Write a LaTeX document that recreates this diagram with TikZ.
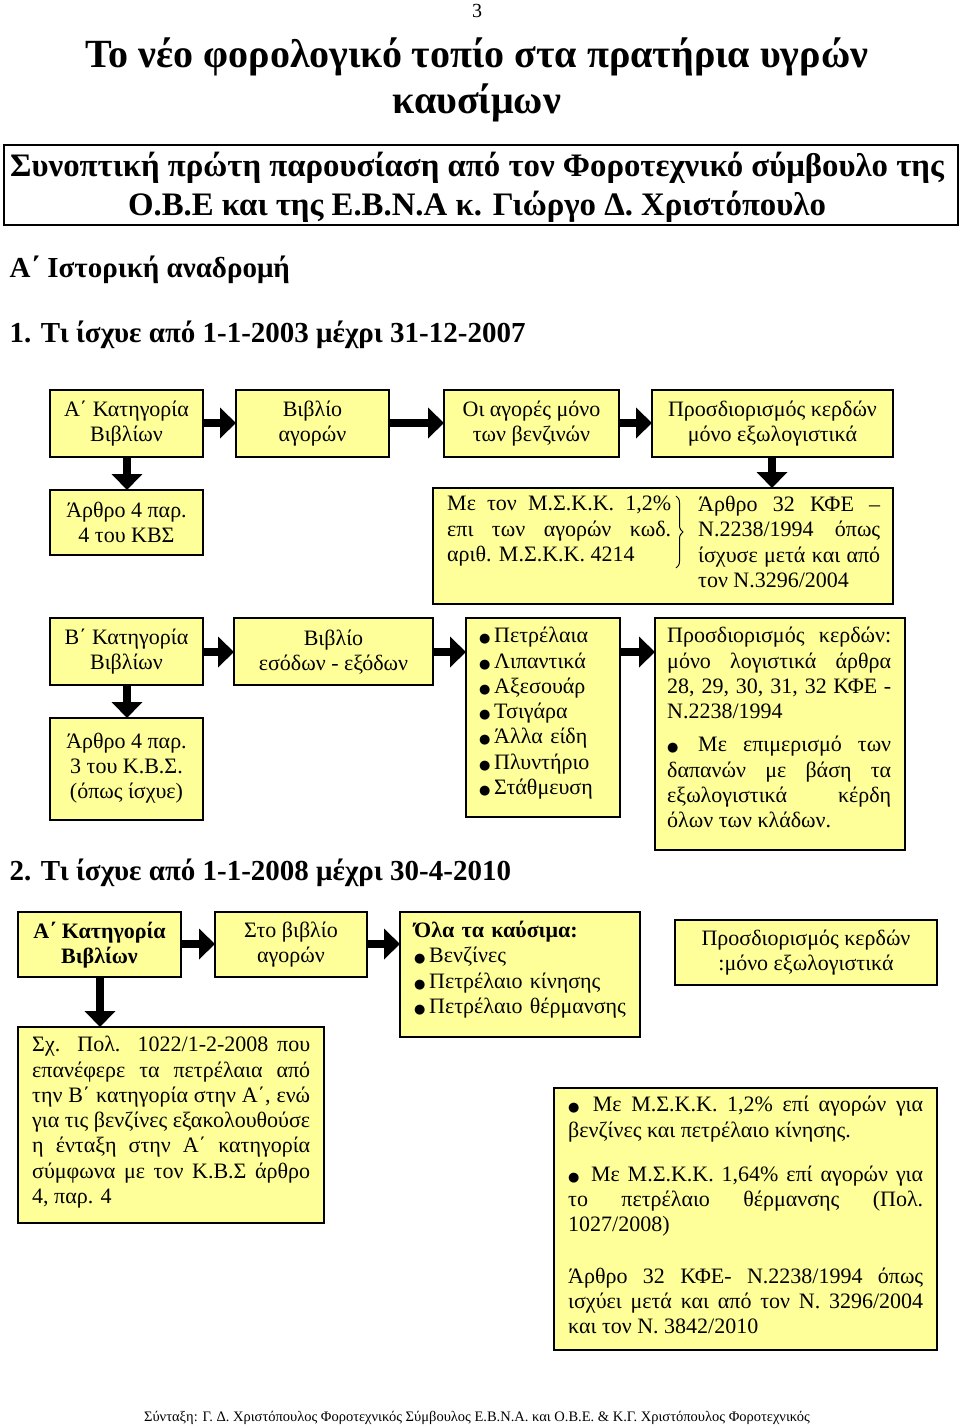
\documentclass[tikz,border=0pt]{standalone}
\usepackage{fontspec}
\setmainfont{Liberation Serif}
\newfontfamily\dv{DejaVu Sans}
\usetikzlibrary{arrows.meta,decorations.pathreplacing}
\definecolor{yel}{HTML}{FFFF99}
\newcommand{\bul}{{\dv\fontsize{13}{13}\selectfont●}\,}
\tikzset{
 bx/.style={draw,line width=1.6pt,fill=yel,inner sep=0pt},
 tx/.style={font=\fontsize{22}{25}\selectfont,align=center,inner sep=0pt},
 jt/.style={font=\fontsize{22}{25.3}\selectfont,align=justify,inner sep=0pt,anchor=north west},
 fat/.style={line width=8pt,-{Triangle[length=16pt,width=30pt]}},
}
\begin{document}
\begin{tikzpicture}[x=1pt,y=-1pt]
\useasboundingbox (0,0) rectangle (960,1426);
\node[font=\fontsize{20}{20}\selectfont] (pg) at (477,11) {3};
\node[font=\bfseries\fontsize{40}{46}\selectfont,align=center] (t1) at (477,80) {Το νέο φορολογικό τοπίο στα πρατήρια υγρών\\καυσίμων};
\draw[line width=1.2pt] (4,145) rectangle (958,225);
\node[font=\bfseries\fontsize{32.8}{39}\selectfont,align=center] (t2) at (477,187) {Συνοπτική πρώτη παρουσίαση από τον Φοροτεχνικό σύμβουλο της\\Ο.Β.Ε και της Ε.Β.Ν.Α κ. Γιώργο Δ. Χριστόπουλο};
\node[font=\bfseries\fontsize{29}{29}\selectfont,anchor=west] (h1) at (6,270) {Α΄ Ιστορική αναδρομή};
\node[font=\bfseries\fontsize{29}{29}\selectfont,anchor=west] (h2) at (6,335) {1. Τι ίσχυε από 1-1-2003 μέχρι 31-12-2007};
% row 1
\draw[bx] (50,390) rectangle (203,457); \node[tx] (a1) at (126.5,423.5) {Α΄ Κατηγορία\\Βιβλίων};
\draw[bx] (236,390) rectangle (389,457); \node[tx] (a2) at (312.5,423.5) {Βιβλίο\\αγορών};
\draw[bx] (444,390) rectangle (619,457); \node[tx] (a3) at (531.5,423.5) {Οι αγορές μόνο\\των βενζινών};
\draw[bx] (652,390) rectangle (893,457); \node[tx] (a4) at (772.5,423.5) {Προσδιορισμός κερδών\\μόνο εξωλογιστικά};
\draw[fat] (204,423) -- (236,423);
\draw[fat] (390,423) -- (444,423);
\draw[fat] (620,423) -- (652,423);
\draw[fat] (127,458) -- (127,490);
\draw[fat] (772,458) -- (772,488);
% row 2
\draw[bx] (50,490) rectangle (203,555); \node[tx] (b1) at (126.5,522) {Άρθρο 4 παρ.\\4 του ΚΒΣ};
\draw[bx] (433,488) rectangle (893,604);
\node[jt,text width=224pt] (b2) at (447,496) {Με τον Μ.Σ.Κ.Κ. 1,2\% επι των αγορών κωδ. αριθ. Μ.Σ.Κ.Κ. 4214};
\node[jt,text width=182pt] (b3) at (698,496) {Άρθρο 32 ΚΦΕ – Ν.2238/1994 όπως ίσχυσε μετά και από τον Ν.3296/2004};
\draw[decorate,decoration={brace,amplitude=7pt},line width=1pt] (676,496) -- (676,568);
% row 3
\draw[bx] (50,618) rectangle (203,685); \node[tx] (c1) at (126.5,652) {Β΄ Κατηγορία\\Βιβλίων};
\draw[bx] (234,618) rectangle (433,685); \node[tx] (c2) at (333.5,652) {Βιβλίο\\εσόδων - εξόδων};
\draw[bx] (466,618) rectangle (620,817);
\node[jt,text width=150pt,align=left] (c3) at (479,627) {\bul Πετρέλαια\\\bul Λιπαντικά\\\bul Αξεσουάρ\\\bul Τσιγάρα\\\bul Άλλα είδη\\\bul Πλυντήριο\\\bul Στάθμευση};
\draw[bx] (655,618) rectangle (905,850);
\node[jt,text width=224pt] (c4) at (667,627) {Προσδιορισμός κερδών: μόνο λογιστικά άρθρα 28, 29, 30, 31, 32 ΚΦΕ - Ν.2238/1994\par\vspace{8pt}\bul\ Με επιμερισμό των δαπανών με βάση τα εξωλογιστικά κέρδη όλων των κλάδων.};
\draw[fat] (204,652) -- (234,652);
\draw[fat] (434,652) -- (466,652);
\draw[fat] (621,652) -- (655,652);
\draw[fat] (127,686) -- (127,718);
\draw[bx] (50,718) rectangle (203,820); \node[tx] (c5) at (126.5,768) {Άρθρο 4 παρ.\\3 του Κ.Β.Σ.\\(όπως ίσχυε)};
\node[font=\bfseries\fontsize{29}{29}\selectfont,anchor=west] (h3) at (6,873) {2. Τι ίσχυε από 1-1-2008 μέχρι 30-4-2010};
% row 4
\draw[bx] (18,912) rectangle (181,977); \node[tx,font=\bfseries\fontsize{22}{25}\selectfont] (d1) at (99.5,945) {Α΄ Κατηγορία\\Βιβλίων};
\draw[bx] (215,912) rectangle (367,977); \node[tx] (d2) at (291,945) {Στο βιβλίο\\αγορών};
\draw[bx] (400,912) rectangle (640,1037);
\node[jt,text width=220pt,align=left] (d3) at (414,921) {\textbf{Όλα τα καύσιμα:}\\\bul Βενζίνες\\\bul Πετρέλαιο κίνησης\\\bul Πετρέλαιο θέρμανσης};
\draw[bx] (675,920) rectangle (937,985); \node[tx] (d4) at (806,953) {Προσδιορισμός κερδών\\:μόνο εξωλογιστικά};
\draw[fat] (182,944) -- (215,944);
\draw[fat] (368,944) -- (400,944);
\draw[fat] (100,978) -- (100,1027);
\draw[bx] (18,1027) rectangle (324,1223);
\node[jt,text width=278pt] (e1) at (32,1036) {Σχ. Πολ. 1022/1-2-2008 που επανέφερε τα πετρέλαια από την Β΄ κατηγορία στην Α΄, ενώ για τις βενζίνες εξακολουθούσε η ένταξη στην Α΄ κατηγορία σύμφωνα με τον Κ.Β.Σ άρθρο 4, παρ. 4};
\draw[bx] (554,1088) rectangle (937,1350);
\node[jt,text width=355pt] (e2) at (568,1096) {\bul\ Με Μ.Σ.Κ.Κ. 1,2\% επί αγορών για βενζίνες και πετρέλαιο κίνησης.\par\vspace{19pt}\bul\ Με Μ.Σ.Κ.Κ. 1,64\% επί αγορών για\linebreak το πετρέλαιο θέρμανσης (Πολ.\linebreak 1027/2008)\par\vspace{26pt}Άρθρο 32 ΚΦΕ- Ν.2238/1994 όπως ισχύει μετά και από τον Ν. 3296/2004 και τον Ν. 3842/2010};
\node[font=\fontsize{14.5}{15}\selectfont] (ft) at (477,1418) {Σύνταξη: Γ. Δ. Χριστόπουλος Φοροτεχνικός Σύμβουλος Ε.Β.Ν.Α. και Ο.Β.Ε. \& Κ.Γ. Χριστόπουλος Φοροτεχνικός};
\end{tikzpicture}
\end{document}
